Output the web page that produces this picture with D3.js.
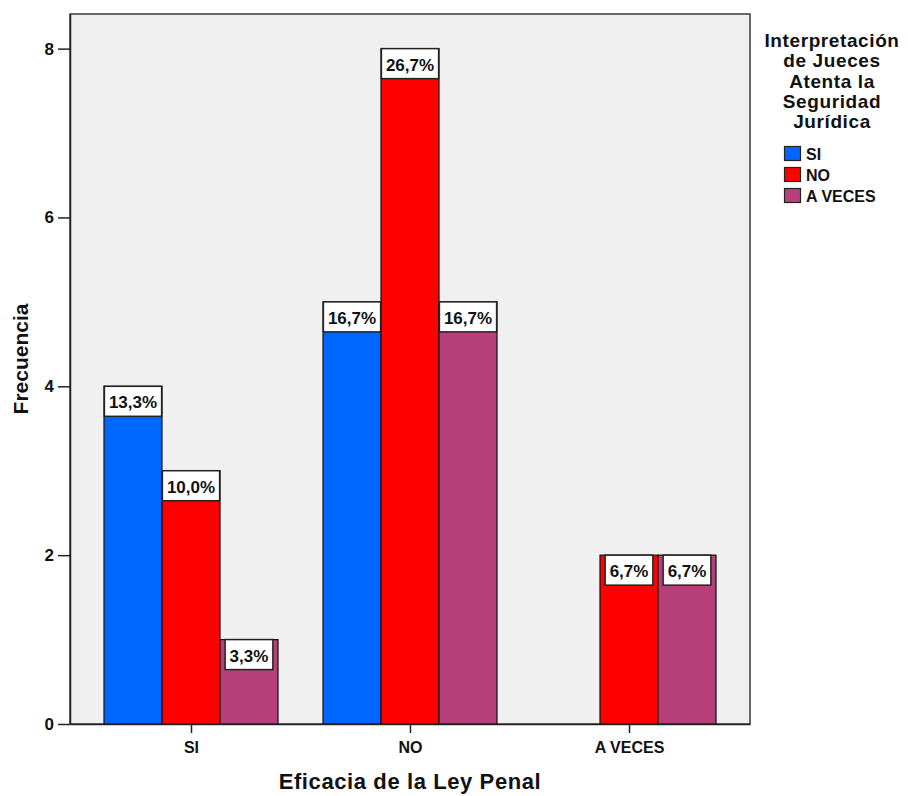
<!DOCTYPE html>
<html><head><meta charset="utf-8">
<script src="https://cdn.jsdelivr.net/npm/d3@7"></script>
<style>
body{margin:0;background:#fff;}
text{font-family:"Liberation Sans",Arial,sans-serif;font-weight:bold;fill:#111;}
</style></head>
<body><svg id="c" width="908" height="796"></svg>
<script>
const categories = ["SI", "NO", "A VECES"];
const seriesNames = ["SI", "NO", "A VECES"];
const valuesSI = [4, 5, 0];
const valuesNO = [3, 8, 2];
const valuesAVeces = [1, 5, 2];
const percentLabelsSI = ["13,3%", "16,7%", ""];
const percentLabelsNO = ["10,0%", "26,7%", "6,7%"];
const percentLabelsAVeces = ["3,3%", "16,7%", "6,7%"];
const yTicks = [0, 2, 4, 6, 8];
const colors = ["#0066ff", "#ff0000", "#b8407a"];
const legendTitle = ["Interpretación", "de Jueces", "Atenta la", "Seguridad", "Jurídica"];
const xTitle = "Eficacia de la Ley Penal";
const yTitle = "Frecuencia";

const svgEl = d3.select("#c");
const L = 70, R = 750, T = 14, B = 724;

const x = d3.scalePoint().domain(categories).range([L, R]).padding(0.5525);
const inner = d3.scaleBand().domain(seriesNames).range([-87, 87]);
const y = d3.scaleLinear().domain([0, 8.41]).range([B, T]);
const color = d3.scaleOrdinal().domain(seriesNames).range(colors);

const seriesVals = [valuesSI, valuesNO, valuesAVeces];
const seriesLabels = [percentLabelsSI, percentLabelsNO, percentLabelsAVeces];
const data = [];
categories.forEach((c, ci) => seriesNames.forEach((s, si) => {
  data.push({cat: c, ser: s, v: seriesVals[si][ci], lab: seriesLabels[si][ci]});
}));

svgEl.append("rect").attr("x", L).attr("y", T).attr("width", R - L).attr("height", B - T)
  .attr("fill", "#f0f0f0").attr("stroke", "#3a3a3a").attr("stroke-width", 1.5);

const bars = data.filter(d => d.v > 0);
svgEl.append("g").selectAll("rect").data(bars).join("rect")
  .attr("x", d => x(d.cat) + inner(d.ser))
  .attr("y", d => y(d.v))
  .attr("width", inner.bandwidth())
  .attr("height", d => y(0) - y(d.v))
  .attr("fill", d => color(d.ser))
  .attr("stroke", "#111").attr("stroke-width", 1.2);

// labels
const lg = svgEl.append("g");
bars.forEach(d => {
  const cx = x(d.cat) + inner(d.ser) + inner.bandwidth() / 2;
  const t = lg.append("text").attr("x", cx).attr("y", y(d.v) + 22)
    .attr("text-anchor", "middle").attr("font-size", 17).text(d.lab);
  const w = Math.min(t.node().getComputedTextLength() + 9, inner.bandwidth());
  lg.insert("rect", "text").attr("x", cx - w / 2).attr("y", y(d.v))
    .attr("width", w).attr("height", 30)
    .attr("fill", "#fff").attr("stroke", "#222").attr("stroke-width", 1.5);
});

// axes
const ya = svgEl.append("g").attr("transform", `translate(${L},0)`)
  .call(d3.axisLeft(y).tickValues(yTicks).tickFormat(d3.format("d")).tickSize(12).tickSizeOuter(0).tickPadding(4));
ya.select(".domain").attr("stroke", "#222").attr("stroke-width", 1.5);
ya.selectAll(".tick line").attr("stroke", "#222").attr("stroke-width", 1.5);
ya.selectAll(".tick text").attr("font-size", 17).attr("font-family", "Liberation Sans, Arial").attr("font-weight", "bold").attr("fill", "#111");

const xa = svgEl.append("g").attr("transform", `translate(0,${B})`)
  .call(d3.axisBottom(x).tickSize(9).tickSizeOuter(0).tickPadding(9));
xa.select(".domain").attr("stroke", "#222").attr("stroke-width", 1.5);
xa.selectAll(".tick line").attr("stroke", "#222").attr("stroke-width", 1.5);
xa.selectAll(".tick text").attr("font-size", 16).attr("font-family", "Liberation Sans, Arial").attr("font-weight", "bold").attr("fill", "#111");

svgEl.append("text").attr("x", (L + R) / 2).attr("y", 789).attr("text-anchor", "middle")
  .attr("font-size", 22).attr("letter-spacing", 0.6).text(xTitle);
svgEl.append("text").attr("transform", "translate(28,359) rotate(-90)").attr("text-anchor", "middle")
  .attr("font-size", 21).text(yTitle);

// legend
const leg = svgEl.append("g");
legendTitle.forEach((t, i) => {
  leg.append("text").attr("x", 832).attr("y", 47 + i * 20.3).attr("text-anchor", "middle")
    .attr("font-size", 19).attr("letter-spacing", 0.6).text(t);
});
seriesNames.forEach((s, i) => {
  leg.append("rect").attr("x", 784.5).attr("y", 146.5 + i * 21).attr("width", 16).attr("height", 14)
    .attr("fill", color(s)).attr("stroke", "#222").attr("stroke-width", 1.2);
  leg.append("text").attr("x", 806).attr("y", 160 + i * 21).attr("font-size", 16).text(s);
});
</script></body></html>
